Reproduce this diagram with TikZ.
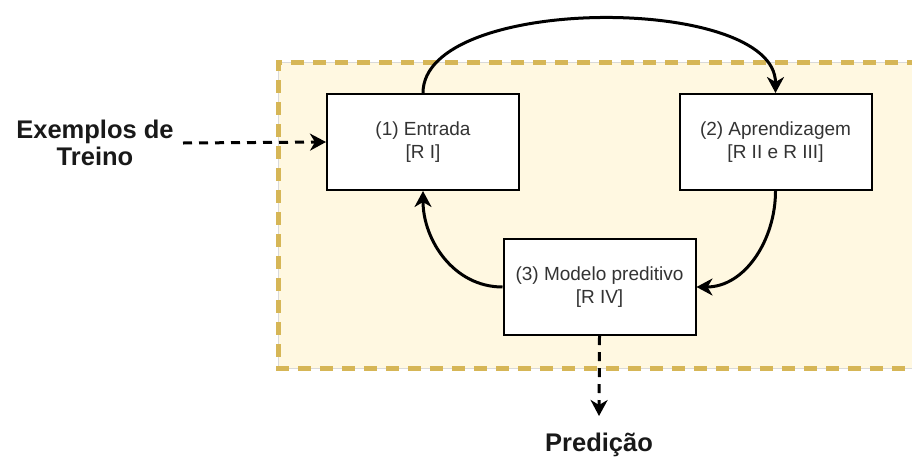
\documentclass[tikz,border=0pt]{standalone}
\usepackage{fontspec}
\setmainfont{Liberation Sans}
\usetikzlibrary{arrows.meta}
\definecolor{bgfill}{HTML}{FFF8E1}
\definecolor{bgline}{HTML}{D6B656}
\definecolor{txtgray}{HTML}{333333}
\tikzset{
  stepbox/.style={draw=black, line width=2pt, fill=white, minimum width=192pt, minimum height=96pt, inner sep=0pt, align=center, font=\fontsize{19}{23}\selectfont, text=txtgray},
  flow/.style={line width=3pt, -{Stealth[length=16pt,width=17pt,inset=5pt]}},
  dflow/.style={flow, dash pattern=on 9pt off 7pt},
  lbl/.style={font=\bfseries\fontsize{25.5}{27}\selectfont, align=center, inner sep=0pt, text=black!90}
}
\begin{document}
\begin{tikzpicture}[x=1pt,y=-1pt]
\clip (0,0) rectangle (912,461);
\fill[white] (0,0) rectangle (912,461);
% background region
\fill[bgfill] (278,62) rectangle (920,368);
\draw[gray!30, line width=0.8pt] (920,62) -- (278,62) -- (278,368) -- (920,368);
\draw[bgline, line width=5pt, dash pattern=on 13pt off 9pt] (920,62) -- (278,62) -- (278,368) -- (920,368);
% boxes
\node[stepbox] (b1) at (423,142) {(1) Entrada\\{}[R I]};
\node[stepbox] (b2) at (775.5,142) {(2) Aprendizagem\\{}[R II e R III]};
\node[stepbox] (b3) at (599.5,287) {(3) Modelo preditivo\\{}[R IV]};
% labels
\node[lbl] (ex) at (95,143) {Exemplos de\\Treino};
\node[lbl] (pr) at (599,445) {Predição};
\coordinate (exend) at (183,143);
\coordinate (prend) at (599,416);
% connectors
\draw[flow] (b1.north) to[out=90,in=90,looseness=0.72] (b2.north);
\draw[flow] (b2.south) to[out=-90,in=0] (b3.east);
\draw[flow] (b3.west) to[out=180,in=-90] (b1.south);
\draw[dflow] (exend) -- (b1.west);
\draw[dflow] (b3.south) -- (prend);
\end{tikzpicture}
\end{document}
